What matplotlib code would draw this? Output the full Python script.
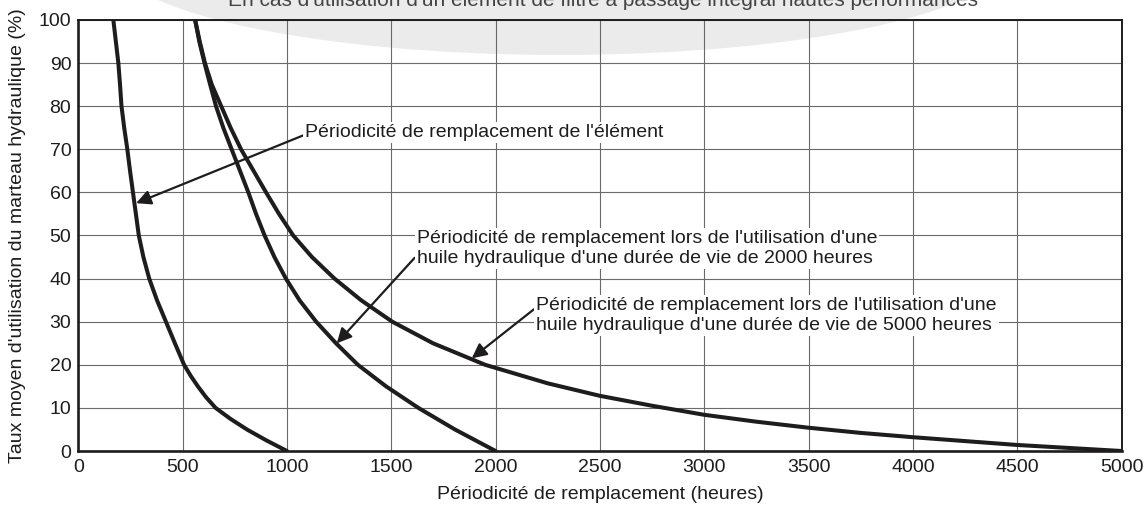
import numpy as np
import matplotlib
matplotlib.use('Agg')
import matplotlib.pyplot as plt
from matplotlib.patches import Ellipse

# replacement interval curves (hours vs. average usage rate %)
elem_x = [168, 180, 192, 200, 207, 220, 235, 248, 262, 276, 290, 312, 340,
          377, 420, 463, 507, 538, 573, 612, 658, 728, 808, 900, 1000]
elem_y = [100, 95, 90, 85, 80, 75, 70, 65, 60, 55, 50, 45, 40,
          35, 30, 25, 20, 17.5, 15, 12.5, 10, 7.5, 5, 2.5, 0]

oil2000_x = [560, 580, 605, 632, 660, 695, 735, 775, 815, 852, 893, 940, 995,
             1060, 1140, 1235, 1340, 1475, 1630, 1805, 2000]
oil2000_y = [100, 95, 90, 85, 80, 75, 70, 65, 60, 55, 50, 45, 40,
             35, 30, 25, 20, 15, 10, 5, 0]

oil5000_x = [560, 582, 607, 640, 685, 730, 780, 840, 900, 962, 1030, 1120,
             1228, 1355, 1505, 1700, 1950, 2250, 2500, 2750, 3000, 3250,
             3500, 3750, 4000, 4250, 4500, 4750, 5000]
oil5000_y = [100, 95, 90, 85, 80, 75, 70, 65, 60, 55, 50, 45,
             40, 35, 30, 25, 20, 15.7, 12.8, 10.5, 8.4, 6.8,
             5.4, 4.2, 3.2, 2.3, 1.4, 0.7, 0]

x_ticks = np.arange(0, 5001, 500)
y_ticks = np.arange(0, 101, 10)

title = "En cas d'utilisation d'un élément de filtre à passage intégral hautes performances"
xlab = 'Périodicité de remplacement (heures)'
ylab = "Taux moyen d'utilisation du marteau hydraulique (%)"
lab_elem = "Périodicité de remplacement de l'élément"
lab_2000 = ("Périodicité de remplacement lors de l'utilisation d'une\n"
            "huile hydraulique d'une durée de vie de 2000 heures")
lab_5000 = ("Périodicité de remplacement lors de l'utilisation d'une\n"
            "huile hydraulique d'une durée de vie de 5000 heures")

plt.rcParams['font.family'] = ['Liberation Sans', 'DejaVu Sans']
fs = 14
ink = '#1e1c1d'

fig = plt.figure(figsize=(11.44, 5.09), dpi=100)
fig.patch.set_facecolor('white')

# light grey swoosh behind the title
swoosh = Ellipse((560 / 1144, 1 + 45 / 509), 900 / 1144, 200 / 509,
                 transform=fig.transFigure, facecolor='#ebebeb',
                 edgecolor='none', zorder=-1)
fig.add_artist(swoosh)
fig.text(603 / 1144, 1 - 6 / 509, title, ha='center', va='baseline',
         fontsize=15, color='#444444')

ax = fig.add_axes([78.3 / 1144, 1 - 451 / 509, 1043.2 / 1144, 431 / 509])
ax.set_facecolor('none')

for xs, ys in [(elem_x, elem_y), (oil2000_x, oil2000_y), (oil5000_x, oil5000_y)]:
    ax.plot(xs, ys, color=ink, lw=2.9, zorder=3,
            solid_joinstyle='round', solid_capstyle='round')

ax.set_xlim(0, 5000)
ax.set_ylim(0, 100)
ax.set_xticks(x_ticks)
ax.set_yticks(y_ticks)
ax.grid(True, color='#6a6a6a', lw=0.8)
ax.set_axisbelow(True)
ax.tick_params(length=0, labelsize=fs, colors=ink)
ax.tick_params(axis='x', pad=6)
ax.tick_params(axis='y', pad=5)
for side in ['left', 'bottom']:
    ax.spines[side].set_linewidth(1.9)
for side in ['top', 'right']:
    ax.spines[side].set_linewidth(1.4)
for sp in ax.spines.values():
    sp.set_color(ink)

ax.set_xlabel(xlab, fontsize=fs, color=ink)
ax.xaxis.set_label_coords(0.5, -0.102)
ax.xaxis.label.set_va('center')
ax.set_ylabel(ylab, fontsize=fs, color=ink)
ax.yaxis.set_label_coords(-0.058, 0.5)
ax.yaxis.label.set_va('center')

box = dict(boxstyle='square,pad=0.1', facecolor='white', edgecolor='none')
arrow = dict(arrowstyle='-|>', color=ink, lw=1.6, mutation_scale=22,
             shrinkA=0, shrinkB=0)

ax.annotate(lab_elem, xy=(277, 57.5), xytext=(1087, 73.8), ha='left',
            va='center', fontsize=fs, color=ink, bbox=box,
            arrowprops=dict(arrow, relpos=(0, 0.4)), zorder=4)
ax.annotate(lab_2000, xy=(1239, 25), xytext=(1621, 47.0), ha='left',
            va='center', fontsize=fs, color=ink, bbox=box,
            arrowprops=dict(arrow, relpos=(0, 0.3)), zorder=4)
ax.annotate(lab_5000, xy=(1886, 21.5), xytext=(2194, 31.4), ha='left',
            va='center', fontsize=fs, color=ink, bbox=box,
            arrowprops=dict(arrow, relpos=(0, 0.72)), zorder=4)

fig.savefig('out.png', dpi=100, facecolor='white')
